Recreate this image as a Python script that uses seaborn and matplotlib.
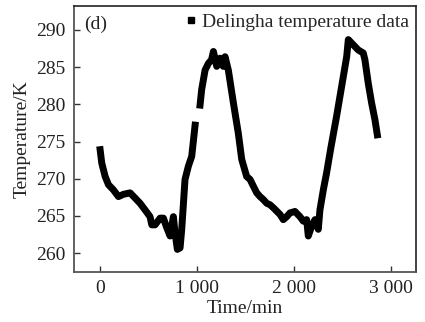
import matplotlib
matplotlib.use("Agg")
import matplotlib.pyplot as plt
from matplotlib.lines import Line2D
from matplotlib.ticker import FuncFormatter
import seaborn as sns
import pandas as pd

# Segment 1 (before the data gap)
time_a = [0, 17, 52, 86, 137, 189, 240, 309, 361, 412, 464, 515, 533, 567, 619, 653,
          688, 722, 756, 773, 797, 825, 842, 876, 911, 945, 980]
temp_a = [273.9, 272.1, 270.3, 269.2, 268.5, 267.6, 267.9, 268.1, 267.4, 266.7, 265.8,
          264.9, 263.8, 263.8, 264.7, 264.7, 263.4, 262.3, 264.9, 262.7, 260.5, 260.7,
          263.2, 269.9, 271.7, 273.0, 277.2]

# Segment 2 (after the data gap)
time_b = [1031, 1048, 1083, 1117, 1150, 1169, 1203, 1237, 1271, 1289, 1323, 1375, 1426,
          1461, 1512, 1547, 1581, 1616, 1650, 1684, 1719, 1753, 1787, 1856, 1890, 1925,
          1959, 2010, 2062, 2096, 2131, 2148, 2182, 2217, 2251, 2268, 2303, 2337, 2380,
          2440, 2492, 2544, 2561, 2612, 2664, 2715, 2732, 2767, 2801, 2836, 2860]
temp_b = [279.9, 282.0, 284.6, 285.5, 286.0, 287.1, 285.1, 286.2, 285.1, 286.4, 284.6,
          280.2, 276.1, 272.6, 270.3, 269.9, 269.0, 268.1, 267.6, 267.2, 266.7, 266.5,
          266.1, 265.2, 264.5, 264.9, 265.4, 265.6, 264.9, 264.3, 264.5, 262.3, 263.6,
          264.5, 263.2, 265.8, 268.5, 270.8, 274.1, 278.4, 282.4, 286.4, 288.7, 288.0,
          287.3, 286.9, 286.0, 282.8, 280.2, 277.9, 275.9]

x_ticks = [0, 1000, 2000, 3000]
y_ticks = [260, 265, 270, 275, 280, 285, 290]
legend_label = "Delingha temperature data"
panel_label = "(d)"

df = pd.concat([
    pd.DataFrame({"time": time_a, "temp": temp_a, "seg": 0}),
    pd.DataFrame({"time": time_b, "temp": temp_b, "seg": 1}),
])

sns.set_style("ticks")
plt.rcParams["font.family"] = ["Liberation Serif", "DejaVu Serif"]
plt.rcParams["font.size"] = 14

fig = plt.figure(figsize=(4.25, 3.22), dpi=100)
ax = fig.add_axes([0.174, 0.155, 0.805, 0.826])

sns.lineplot(data=df, x="time", y="temp", units="seg", estimator=None,
             color="black", linewidth=5.0, ax=ax, legend=False,
             solid_capstyle="projecting", solid_joinstyle="round", sort=False)

ax.set_xlim(-270, 3260)
ax.set_ylim(257.45, 293.2)
ax.set_xticks(x_ticks)
ax.set_yticks(y_ticks)
ax.xaxis.set_major_formatter(FuncFormatter(lambda v, p: f"{int(v):,}".replace(",", " ")))
ax.tick_params(direction="in", length=4, width=1, colors="#333333", labelsize=14,
               labelcolor="#222222", top=False, right=False, pad=6)
ax.set_xlabel("Time/min", fontsize=14, color="#222222", labelpad=2)
ax.set_ylabel("Temperature/K", fontsize=14, color="#222222", labelpad=4)
for side in ["left", "bottom"]:
    ax.spines[side].set_color("#555555")
    ax.spines[side].set_linewidth(1.3)
for side in ["top", "right"]:
    ax.spines[side].set_visible(True)
    ax.spines[side].set_color("#222222")
    ax.spines[side].set_linewidth(1.2)

ax.text(0.03, 0.965, panel_label, transform=ax.transAxes, ha="left", va="top",
        fontsize=14, color="#222222")
handle = Line2D([], [], color="black", marker="s", linestyle="none", markersize=5)
ax.legend([handle], [legend_label], loc="upper right", frameon=False, fontsize=14,
          handletextpad=0.1, handlelength=1.0, borderaxespad=0.15, borderpad=0.2)

fig.savefig("out.png", dpi=100)
